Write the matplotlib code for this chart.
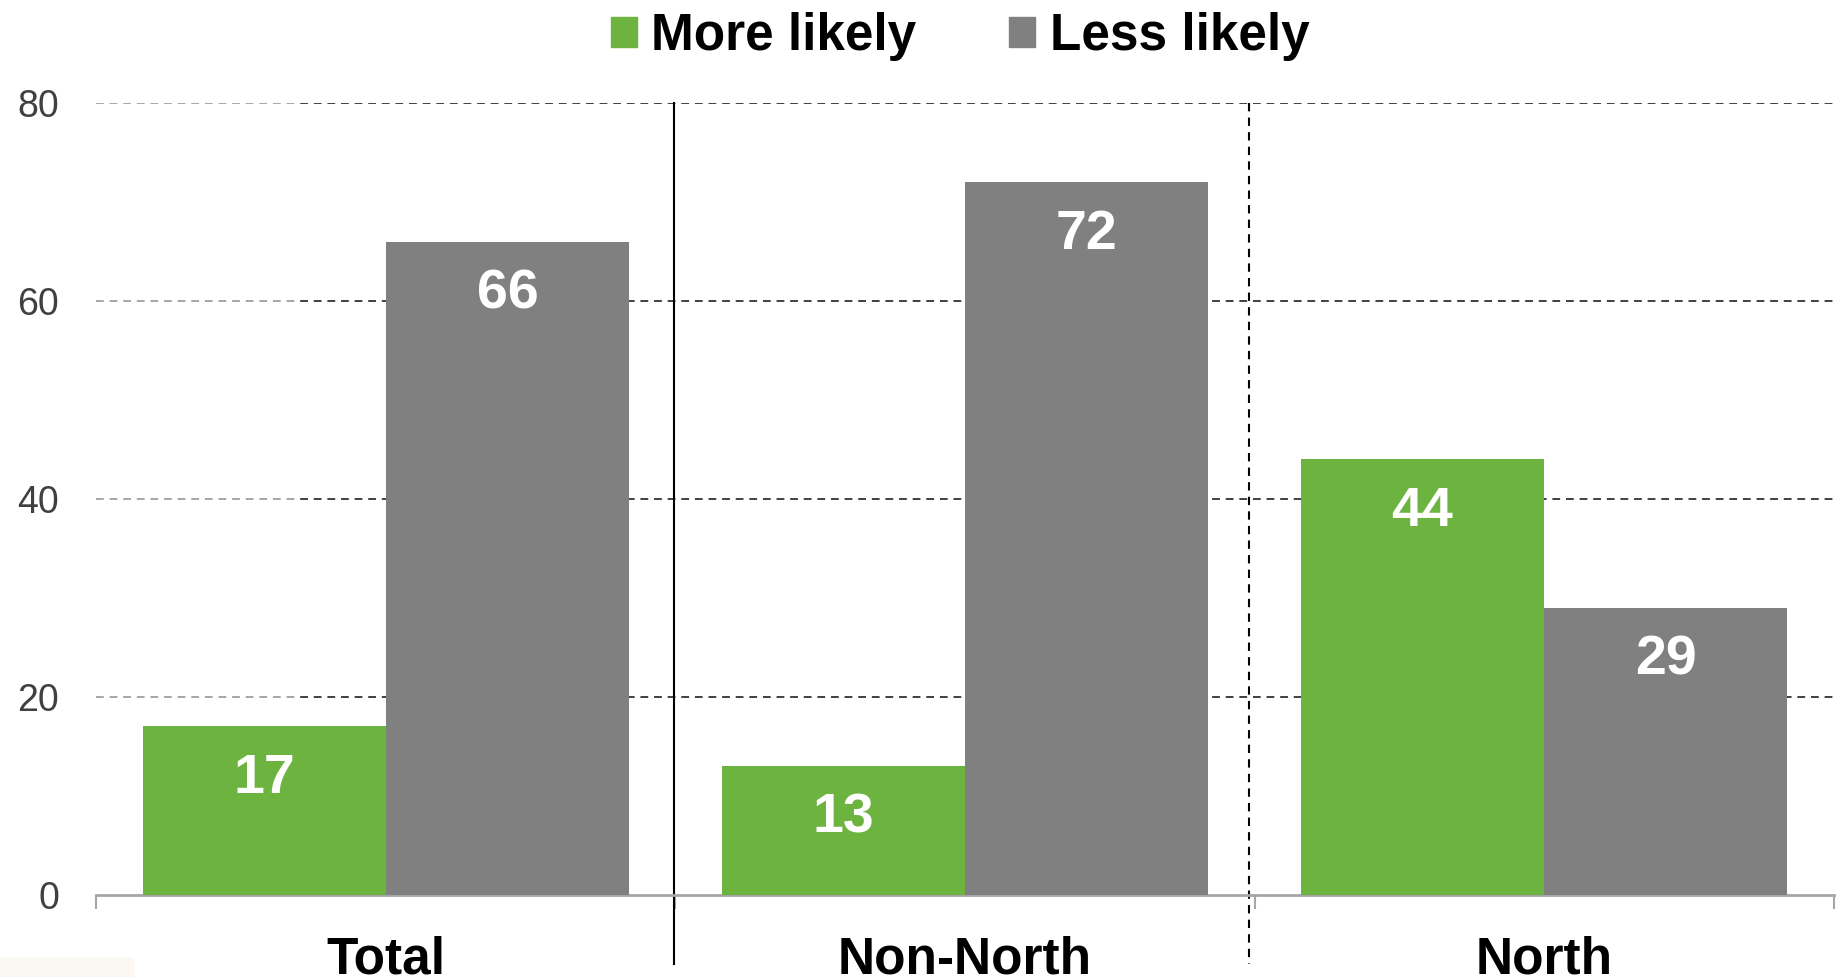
import matplotlib.pyplot as plt
from matplotlib.patches import Patch, Rectangle

plt.rcParams['font.family'] = ['Liberation Sans', 'DejaVu Sans']

# data
categories = ['Total', 'Non-North', 'North']
more_likely = [17, 13, 44]
less_likely = [66, 72, 29]
series_names = ['More likely', 'Less likely']
y_ticks = [0, 20, 40, 60, 80]

green = '#6db33f'
grey = '#808080'

fig = plt.figure(figsize=(18.43, 9.77), dpi=100)
ax = fig.add_axes([0.0523, 0.0844, 0.9426, 0.8098])

x = list(range(len(categories)))
w = 0.42
bars_more = ax.bar([i - w / 2 for i in x], more_likely, w, color=green, zorder=3)
bars_less = ax.bar([i + w / 2 for i in x], less_likely, w, color=grey, zorder=3)

for bars in (bars_more, bars_less):
    for b in bars:
        ax.annotate(f'{b.get_height():.0f}', (b.get_x() + b.get_width() / 2, b.get_height()),
                    xytext=(0, -38), textcoords='offset points', ha='center', va='center',
                    color='white', fontsize=40, fontweight='bold', zorder=4)

ax.set_xlim(-0.5, 2.5)
ax.set_ylim(0, 80)

# dashed gridlines, lighter towards the left edge
for t in y_ticks[1:]:
    ax.plot([-0.5, 2.5], [t, t], color='#404040', lw=1.4, ls=(0, (4, 3)), zorder=1)
    ax.plot([-0.5, -0.153], [t, t], color='white', lw=2.5, zorder=1.5)
    ax.plot([-0.5, -0.153], [t, t], color='#a6a6a6', lw=1.4, ls=(0, (4, 3)), zorder=1.6)

# group separators
ax.plot([0.497, 0.497], [80, -7.0], color='black', lw=1.5, clip_on=False, zorder=2)
ax.plot([1.49, 1.49], [80, -7.0], color='black', lw=1.5, ls=(0, (4, 3)), clip_on=False, zorder=2)

for s in ('top', 'right', 'left'):
    ax.spines[s].set_visible(False)
ax.spines['bottom'].set_color('#a6a6a6')
ax.spines['bottom'].set_linewidth(2)

ax.set_yticks(y_ticks)
ax.tick_params(axis='y', length=0, pad=27, labelsize=27, labelcolor='#404040')
ax.set_xticks(x)
ax.set_xticklabels(categories, fontsize=37, fontweight='bold')
ax.set_xticks([-0.5, 0.5, 1.5, 2.5], minor=True)
ax.tick_params(axis='x', which='major', length=0, pad=29.5)
ax.tick_params(axis='x', which='minor', length=10, width=1.5, color='#a6a6a6')

handles = [Patch(color=green), Patch(color=grey)]
fig.legend(handles, series_names, loc='center', bbox_to_anchor=(0.521, 0.9625), ncol=2,
           frameon=False, prop={'size': 37, 'weight': 'bold'},
           handlelength=0.5, handleheight=0.5, handletextpad=0.29, columnspacing=1.8)

fig.patches.append(Rectangle((0, 0), 133 / 1843, 19 / 977, transform=fig.transFigure,
                             color='#fbf8f3', zorder=0))

fig.savefig('out.png', dpi=100)
